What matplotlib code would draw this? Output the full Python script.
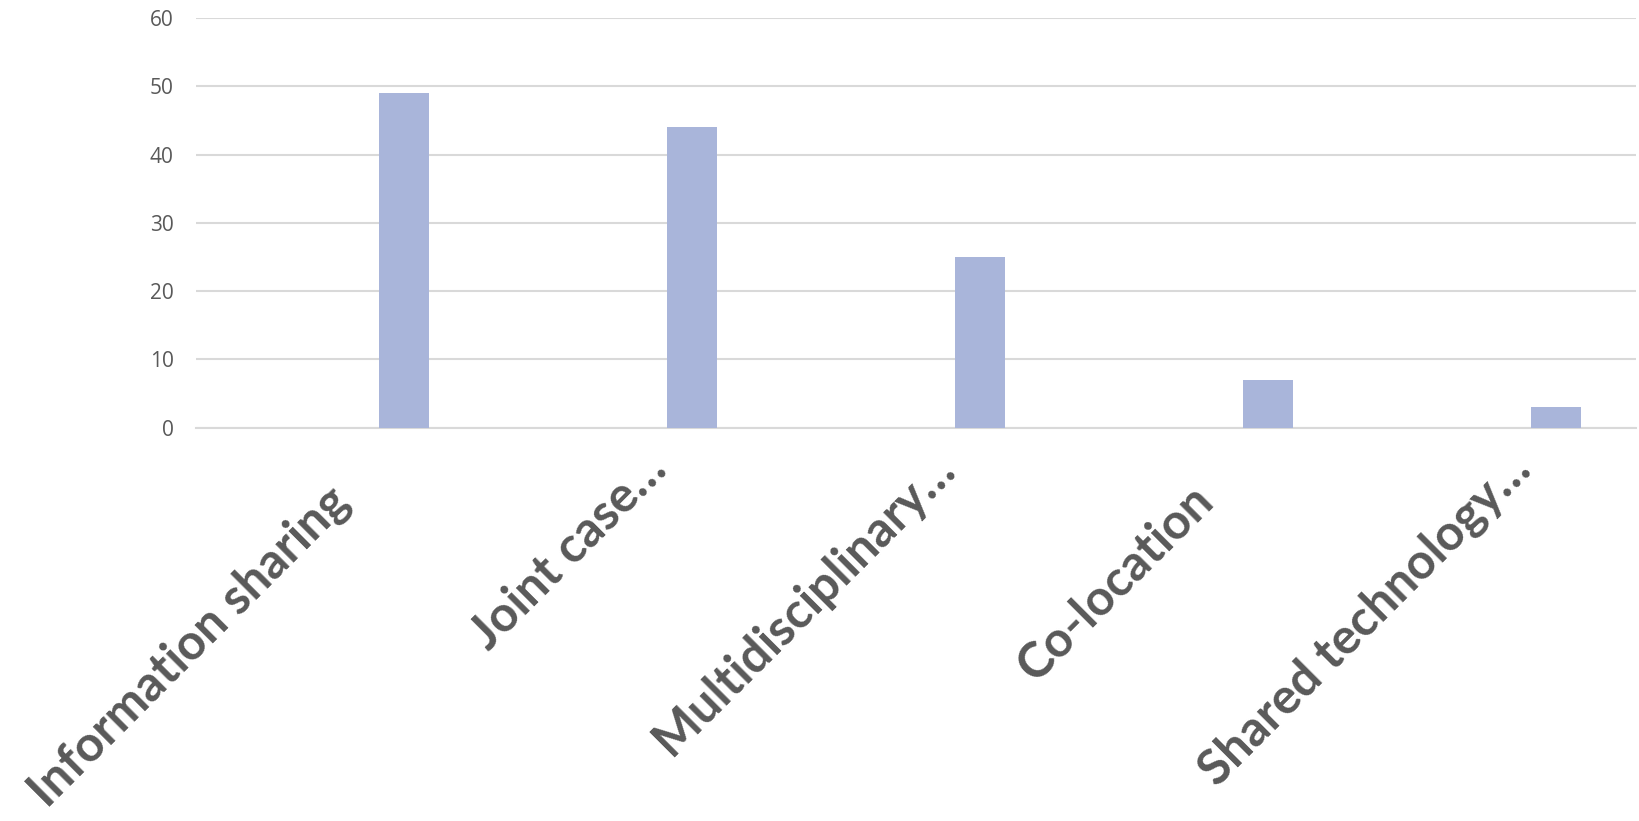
import matplotlib
matplotlib.use("Agg")
import matplotlib.pyplot as plt
import matplotlib.transforms as mtransforms
import numpy as np

categories = ["Information sharing", "Joint case\u2026", "Multidisciplinary\u2026",
              "Co-location", "Shared technology\u2026"]
values = [49, 44, 25, 7, 3]
yticks = [0, 10, 20, 30, 40, 50, 60]

TEXT = "#595959"
BAR = "#A9B5DA"
GRID = "#D9D9D9"

fig = plt.figure(figsize=(16.4, 8.21), dpi=100)
ax = fig.add_axes([0.1195, 0.479, 0.878, 0.499])

x = np.arange(len(categories))
ax.bar(x + 0.222, values, width=0.174, color=BAR, zorder=3)

ax.set_xlim(-0.5, len(categories) - 0.5)
ax.set_ylim(0, 60)
ax.set_yticks(yticks)
ax.yaxis.grid(True, color=GRID, linewidth=1.5, zorder=0)
ax.set_axisbelow(True)
for s in ["top", "right", "left"]:
    ax.spines[s].set_visible(False)
ax.spines["bottom"].set_color(GRID)
ax.spines["bottom"].set_linewidth(1.5)

ax.tick_params(axis="y", length=0, pad=16, labelsize=15, labelcolor=TEXT)
for lbl in ax.get_yticklabels():
    lbl.set_fontfamily(["Open Sans", "DejaVu Sans"])

ax.set_xticks(x)
ax.set_xticklabels([])
ax.tick_params(axis="x", length=0)

# category labels, rotated 45 deg; truncated ones sit a bit further up the diagonal
for i, name in enumerate(categories):
    if name.endswith("\u2026"):
        dx, dy = 15, -18
    else:
        dx, dy = -14, -50
    off = mtransforms.ScaledTranslation(dx / 100, dy / 100, fig.dpi_scale_trans)
    ax.text(i, 0, name, transform=ax.get_xaxis_transform() + off,
            rotation=45, ha="right", va="top", rotation_mode="anchor",
            fontsize=35.5, fontweight="bold", color=TEXT,
            family=["Lato", "DejaVu Sans"])

fig.savefig("out.png", dpi=100)
